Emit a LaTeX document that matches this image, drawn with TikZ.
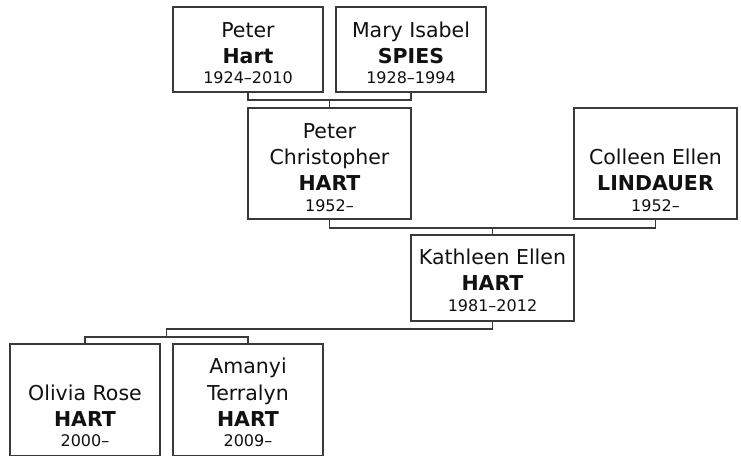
\documentclass[tikz,border=0pt]{standalone}
\usepackage{fontspec}
\setmainfont{DejaVu Sans}
\definecolor{linec}{HTML}{3A3A3A}
\definecolor{txtc}{HTML}{111111}
\tikzset{
  box/.style={draw=linec, line width=1.1pt, fill=white, inner sep=0pt},
  fn/.style={anchor=base, inner sep=0pt, text=txtc, font=\fontsize{20.5}{24}\selectfont},
  sn/.style={anchor=base, inner sep=0pt, text=txtc, font=\fontsize{20.5}{24}\selectfont\bfseries},
  yr/.style={anchor=base, inner sep=0pt, text=txtc, font=\fontsize{16}{19}\selectfont},
  conn/.style={draw=linec, line width=1.1pt}
}
\begin{document}
\begin{tikzpicture}[x=1pt,y=-1pt]
\useasboundingbox (0,0) rectangle (741,455);
% boxes
\node[box, minimum width=150pt, minimum height=85pt] (ph) at (248,49.5) {};
\node[box, minimum width=150pt, minimum height=85pt] (ms) at (411,49.5) {};
\node[box, minimum width=163pt, minimum height=111pt] (pc) at (329.5,163.5) {};
\node[box, minimum width=163pt, minimum height=111pt] (ce) at (655.5,163.5) {};
\node[box, minimum width=163pt, minimum height=86pt] (kh) at (492.5,278) {};
\node[box, minimum width=150pt, minimum height=112pt] (ol) at (85,400) {};
\node[box, minimum width=150pt, minimum height=112pt] (am) at (248,400) {};
% connectors
\coordinate (j1) at (329.5,100);
\draw[conn] (ph.south) -- (ph.south |- j1) -- (ms.south |- j1) -- (ms.south);
\draw[conn] (j1) -- (pc.north);
\coordinate (j2) at (492.5,228);
\draw[conn] (pc.south) -- (pc.south |- j2) -- (ce.south |- j2) -- (ce.south);
\draw[conn] (j2) -- (kh.north);
\coordinate (j3) at (166.5,329);
\coordinate (j4) at (166.5,337);
\draw[conn] (kh.south) -- (kh.south |- j3) -- (j3) -- (j4);
\draw[conn] (ol.north) -- (ol.north |- j4) -- (am.north |- j4) -- (am.north);
% texts
\node[fn] (ph1) at (248,37) {Peter};
\node[sn] (ph2) at (248,63) {Hart};
\node[yr] (ph3) at (248,83) {1924–2010};
\node[fn] (ms1) at (411,37) {Mary Isabel};
\node[sn] (ms2) at (411,63) {SPIES};
\node[yr] (ms3) at (411,83) {1928–1994};
\node[fn] (pc1) at (329.5,138) {Peter};
\node[fn] (pc2) at (329.5,164.5) {Christopher};
\node[sn] (pc3) at (329.5,190) {HART};
\node[yr] (pc4) at (329.5,211) {1952–};
\node[fn] (ce1) at (655.5,164.5) {Colleen Ellen};
\node[sn] (ce2) at (655.5,190) {LINDAUER};
\node[yr] (ce3) at (655.5,211) {1952–};
\node[fn] (kh1) at (492.5,264) {Kathleen Ellen};
\node[sn] (kh2) at (492.5,290) {HART};
\node[yr] (kh3) at (492.5,311) {1981–2012};
\node[fn] (ol1) at (85,400) {Olivia Rose};
\node[sn] (ol2) at (85,426) {HART};
\node[yr] (ol3) at (85,446) {2000–};
\node[fn] (am1) at (248,373) {Amanyi};
\node[fn] (am2) at (248,400) {Terralyn};
\node[sn] (am3) at (248,426) {HART};
\node[yr] (am4) at (248,446) {2009–};
\end{tikzpicture}
\end{document}
